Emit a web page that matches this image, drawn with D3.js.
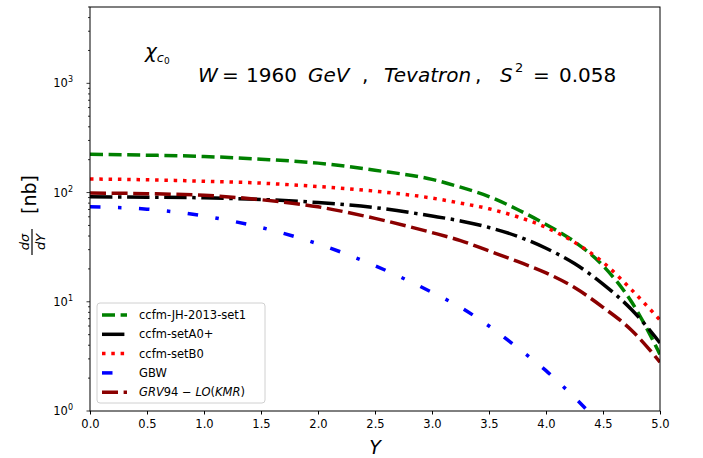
<!DOCTYPE html>
<html>
<head>
<meta charset="UTF-8">
<title>chi_c0 Tevatron</title>
<style>
  body { margin: 0; background: #fff; }
  text { font-family: "DejaVu Sans", sans-serif; }
</style>
</head>
<body>
<script src="https://d3js.org/d3.v7.min.js"></script>
<script>
// --- data ---
var rapidity = [0, 0.5, 1, 1.5, 2, 2.5, 3, 3.25, 3.5, 3.75, 4, 4.25, 4.5, 4.75, 5]
var jh2013   = [224, 220, 214, 202, 186, 160, 132, 112, 92, 70, 51, 35.5, 21.4, 10, 3.3]
var setA0    = [91.4, 90.8, 89.5, 86.5, 81, 72.8, 61, 55, 47.9, 39.8, 30.9, 22.4, 14.5, 8.5, 4.2]
var setB0    = [133, 131, 127, 122, 113.5, 103, 89, 80, 71, 60, 48, 35, 23, 12.9, 6.8]
var grv94    = [99, 97.7, 94.4, 86, 74, 58, 43, 36.3, 29.2, 23.4, 18.4, 13.5, 8.9, 5.5, 2.8]
var gbwY     = [0, 0.5, 1, 1.5, 2, 2.5, 3, 3.25, 3.5, 3.75, 4, 4.25, 4.5]
var gbw      = [74, 70.5, 61, 47.9, 33.9, 21.4, 12.2, 8.9, 6.0, 3.8, 2.34, 1.33, 0.72]
var xTicks   = [0, 0.5, 1, 1.5, 2, 2.5, 3, 3.5, 4, 4.5, 5]
var yDecades = [1, 10, 100, 1000]

var width = 703
var height = 458
var plot = { left: 90, right: 660, top: 7, bottom: 411 }

var svg = d3.select("body").append("svg")
    .attr("width", width)
    .attr("height", height)

var x = d3.scaleLinear().domain([0, 5]).range([plot.left, plot.right])
var y = d3.scaleLog().domain([1, 5000]).range([plot.bottom, plot.top])

svg.append("clipPath").attr("id", "clip")
  .append("rect")
    .attr("x", plot.left).attr("y", plot.top)
    .attr("width", plot.right - plot.left).attr("height", plot.bottom - plot.top)

var series = [
  { name: "ccfm-JH-2013-set1", xs: rapidity, ys: jh2013, color: "#008000", dash: "13,5.6" },
  { name: "ccfm-setA0+", xs: rapidity, ys: setA0, color: "#000000", dash: "22.4,5.6,3.5,5.6" },
  { name: "ccfm-setB0", xs: rapidity, ys: setB0, color: "#ff0000", dash: "3.5,5.8" },
  { name: "GBW", xs: gbwY, ys: gbw, color: "#0000ff", dash: "10.5,17.5,3.5,17.5" },
  { name: "GRV94", xs: rapidity, ys: grv94, color: "#8b0000", dash: "16,5.6" }
]

var line = d3.line()
    .x(function(d) { return x(d[0]) })
    .y(function(d) { return y(d[1]) })
    .curve(d3.curveMonotoneX)

var lines = svg.append("g").attr("clip-path", "url(#clip)")
series.forEach(function(s) {
  lines.append("path")
    .datum(d3.zip(s.xs, s.ys))
    .attr("fill", "none")
    .attr("stroke", s.color)
    .attr("stroke-width", 3.5)
    .attr("stroke-dasharray", s.dash)
    .attr("d", line)
})

// --- axes ---
var xAxis = svg.append("g")
    .attr("transform", "translate(0," + plot.bottom + ")")
    .call(d3.axisBottom(x).tickValues(xTicks).tickFormat(d3.format(".1f")).tickSizeOuter(0).tickSize(3.5).tickPadding(5))
xAxis.selectAll("text").attr("font-size", "11.5px").attr("fill", "#000").style("font-family", "DejaVu Sans")
xAxis.select(".domain").remove()

var minor = []
yDecades.forEach(function(d) {
  for (var k = 2; k <= 9; k++) { if (d * k <= 5000) minor.push(d * k) }
})
var yAxis = svg.append("g").attr("transform", "translate(" + plot.left + ",0)")
yAxis.selectAll(".minor").data(minor).enter().append("line")
    .attr("x1", 0).attr("x2", -2)
    .attr("y1", function(d) { return y(d) }).attr("y2", function(d) { return y(d) })
    .attr("stroke", "#000").attr("stroke-width", 0.8)
yAxis.selectAll(".major").data(yDecades).enter().append("line")
    .attr("x1", 0).attr("x2", -3.5)
    .attr("y1", function(d) { return y(d) }).attr("y2", function(d) { return y(d) })
    .attr("stroke", "#000").attr("stroke-width", 0.8)
var yLab = yAxis.selectAll(".lab").data(yDecades).enter().append("text")
    .attr("x", -17).attr("y", function(d) { return y(d) + 4 })
    .attr("text-anchor", "end")
    .attr("font-size", "11.5px")
yLab.append("tspan").text("10")
yLab.append("tspan").attr("dy", -5).attr("font-size", "8px")
    .text(function(d) { return Math.round(Math.log10(d)) })

// frame
svg.append("rect")
    .attr("x", plot.left).attr("y", plot.top)
    .attr("width", plot.right - plot.left).attr("height", plot.bottom - plot.top)
    .attr("fill", "none").attr("stroke", "#000").attr("stroke-width", 1)

// axis titles
svg.append("text")
    .attr("x", (plot.left + plot.right) / 2).attr("y", 454)
    .attr("text-anchor", "middle")
    .attr("font-size", "19px").attr("font-style", "italic")
    .text("Y")

var yt = svg.append("g").attr("transform", "translate(36,212) rotate(-90)")
yt.append("text").attr("x", -30).attr("y", -7).attr("text-anchor", "middle")
    .attr("font-size", "13px").attr("font-style", "italic").text("dσ")
yt.append("line").attr("x1", -43).attr("x2", -17).attr("y1", -4).attr("y2", -4)
    .attr("stroke", "#000").attr("stroke-width", 1.2)
yt.append("text").attr("x", -30).attr("y", 9).attr("text-anchor", "middle")
    .attr("font-size", "13px").attr("font-style", "italic").text("dY")
yt.append("text").attr("x", -2).attr("y", 0).attr("font-size", "19px").text("[nb]")

// annotations
var chi = svg.append("text").attr("x", 145).attr("y", 58).attr("font-size", "20px")
chi.append("tspan").attr("font-style", "italic").text("χ")
chi.append("tspan").attr("dy", 4).attr("font-size", "13px").attr("font-style", "italic").text("c")
chi.append("tspan").attr("dy", 2).attr("font-size", "9px").text("0")

var title = svg.append("g").attr("font-size", "20px")
function piece(px, s, it, fs, py) {
  title.append("text").attr("x", px).attr("y", py || 82)
    .attr("font-style", it ? "italic" : "normal")
    .attr("font-size", fs || null)
    .text(s)
}
piece(198, "W", true)
piece(222, "=", false)
piece(246, "1960", false)
piece(308, "GeV", true)
piece(362, ",", false)
piece(384, "Tevatron", true)
piece(475, ",", false)
piece(500, "S", true)
piece(515, "2", false, "13px", 72)
piece(533, "=", false)
piece(559, "0.058", false)

// legend
var legend = svg.append("g").attr("transform", "translate(97,303)")
legend.append("rect")
    .attr("width", 168).attr("height", 100).attr("rx", 3)
    .attr("fill", "#fff").attr("fill-opacity", 0.8)
    .attr("stroke", "#d0d0d0").attr("stroke-width", 1)
var item = legend.selectAll(".item").data(series).enter().append("g")
    .attr("transform", function(d, i) { return "translate(0," + (12 + i * 19.3) + ")" })
item.append("line")
    .attr("x1", 5).attr("x2", 30).attr("y1", 0).attr("y2", 0)
    .attr("stroke", function(d) { return d.color })
    .attr("stroke-width", 3.5)
    .attr("stroke-dasharray", function(d) { return d.dash })
var lt = item.append("text").attr("x", 42).attr("y", 4).attr("font-size", "11.5px")
lt.filter(function(d) { return d.name !== "GRV94" }).text(function(d) { return d.name })
var grv = lt.filter(function(d) { return d.name === "GRV94" })
grv.append("tspan").attr("font-style", "italic").text("GRV")
grv.append("tspan").text("94 − ")
grv.append("tspan").attr("font-style", "italic").text("LO")
grv.append("tspan").text("(")
grv.append("tspan").attr("font-style", "italic").text("KMR")
grv.append("tspan").text(")")
</script>
</body>
</html>
